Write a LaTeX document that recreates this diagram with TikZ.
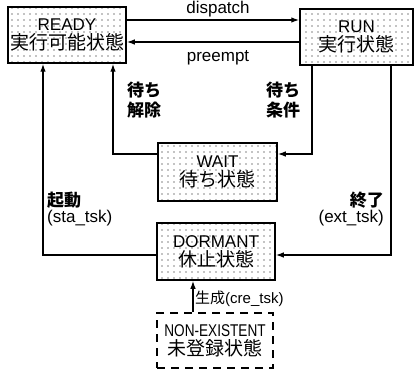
\documentclass[tikz,border=0pt]{standalone}
\usepackage{fontspec}
\setmainfont{Liberation Sans}
\newfontfamily\jp{Noto Sans CJK JP}
\usetikzlibrary{arrows.meta,patterns.meta}
\tikzset{
  state/.style={draw, line width=1.5pt, rectangle, inner sep=0pt, align=center,
    pattern={Dots[distance=6pt, radius=0.6pt]}, pattern color=black},
  ghost/.style={draw, line width=1.5pt, rectangle, inner sep=0pt, align=center,
    dash pattern=on 8pt off 6pt},
  conn/.style={line width=1.3pt, -{Latex[length=8pt,width=5.5pt]}},
  lat/.style={font=\fontsize{17}{19}\selectfont},
  jlab/.style={font=\jp\bfseries\fontsize{17}{19.5}\selectfont},
}
\newcommand{\boxtext}[2]{{\fontsize{17}{20}\selectfont #1}\\[2pt]{\jp\fontsize{19}{22}\selectfont #2}}
\begin{document}
\begin{tikzpicture}[x=1pt,y=-1pt]
\useasboundingbox[fill=white] (0,0) rectangle (414,374);
\node[state, minimum width=118pt, minimum height=56pt] (ready) at (67,35) {\boxtext{READY}{実行可能状態}};
\node[state, minimum width=113pt, minimum height=56pt] (run) at (356.5,37) {\boxtext{RUN}{実行状態}};
\node[state, minimum width=119pt, minimum height=58pt] (wait) at (217.5,172) {\boxtext{WAIT}{待ち状態}};
\node[state, minimum width=118pt, minimum height=57pt] (dormant) at (216,251.5) {\boxtext{DORMANT}{休止状態}};
\node[ghost, minimum width=116pt, minimum height=55pt] (nonex) at (215,340.5)
  {{\fontsize{17}{20}\selectfont\scalebox{0.8}[1]{NON-EXISTENT}}\\[2pt]{\jp\fontsize{19}{22}\selectfont 未登録状態}};

\draw[conn] ([yshift=15pt]ready.east) -- ([yshift=15pt]ready.east -| run.west);
\draw[conn] ([yshift=-7pt]ready.east -| run.west) -- ([yshift=-7pt]ready.east);
\draw[conn] ([xshift=-44.5pt]run.south) |- ([yshift=18pt]wait.east);
\draw[conn] ([yshift=18pt]wait.west) -| ([xshift=46pt]ready.south);
\draw[conn] ([yshift=-3.5pt]dormant.west) -| ([xshift=-24pt]ready.south);
\draw[conn] ([xshift=34.5pt]run.south) |- ([yshift=-3.5pt]dormant.east);
\draw[conn] ([xshift=-22pt]nonex.north) -- ([xshift=-22pt]nonex.north |- dormant.south);

\node[lat, anchor=base] (ldisp) at (218,14) {dispatch};
\node[lat, anchor=base] (lpre) at (218,62) {preempt};
\node[jlab, align=center] (lrel) at (144,100) {待ち\\解除};
\node[jlab, align=center] (lcond) at (283,100) {待ち\\条件};
\node[anchor=north west, inner sep=0pt, align=left] (lsta) at (47,192)
  {{\jp\bfseries\fontsize{17}{19}\selectfont 起動}\\[1pt]{\fontsize{17}{19}\selectfont (sta\_tsk)}};
\node[anchor=north east, inner sep=0pt, align=right] (lext) at (384,192)
  {{\jp\bfseries\fontsize{17}{19}\selectfont 終了}\\[1pt]{\fontsize{17}{19}\selectfont (ext\_tsk)}};
\node[anchor=west, inner sep=0pt] (lcre) at (195,299)
  {{\jp\fontsize{15}{17}\selectfont 生成}{\fontsize{15}{17}\selectfont (cre\_tsk)}};
\end{tikzpicture}
\end{document}
